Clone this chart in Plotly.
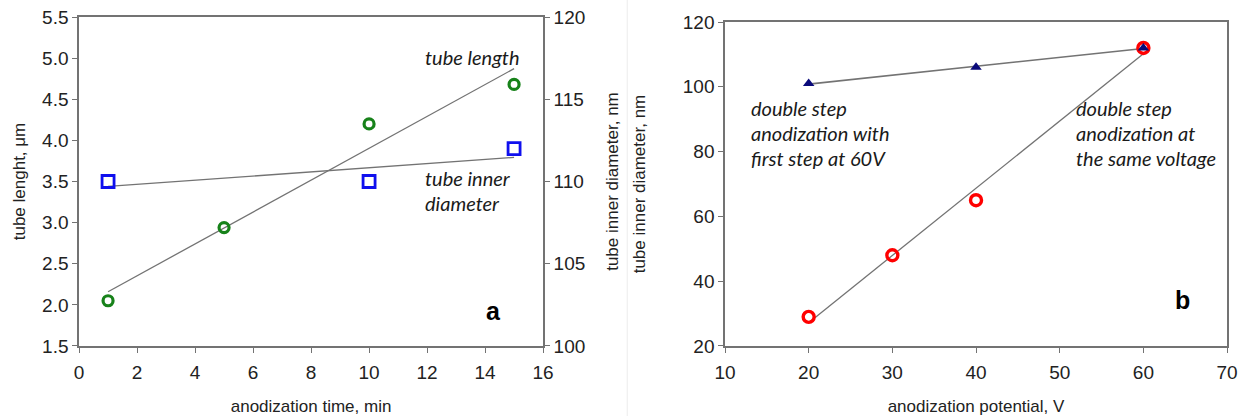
import numpy as np
import plotly.graph_objects as go

# ---- panel a: anodization time series ----
time_min = [1, 5, 10, 15]
tube_length_um = [2.05, 2.94, 4.20, 4.68]
time_diam_min = [1, 10, 15]
tube_diam_nm = [110.0, 110.0, 112.0]

# ---- panel b: anodization potential series ----
potential_same_V = [20, 30, 40, 60]
diam_same_nm = [29, 48, 65, 112]
potential_60_V = [20, 40, 60]
diam_60_nm = [101, 106, 112]

left_notes = ["double step", "anodization with", "first step at 60V"]
right_notes = ["double step", "anodization at", "the same voltage"]

GRID = "#737373"
TICK_FONT = dict(family="Liberation Sans, Arial", size=19, color="#222222")
TITLE_FONT = dict(family="Liberation Sans, Arial", size=17, color="#222222")
NOTE_FONT = dict(family="Lato", size=20, color="#1a1a1a")


def trend(x, y):
    """Least-squares line evaluated at the end points of x."""
    k, b = np.polyfit(x, y, 1)
    xs = np.array([min(x), max(x)], dtype=float)
    return xs, k * xs + b


fig = go.Figure()

# panel a trend lines
tx, ty = trend(time_min, tube_length_um)
fig.add_trace(go.Scatter(x=tx, y=ty, mode="lines", line=dict(color=GRID, width=1.3),
                         xaxis="x", yaxis="y", showlegend=False, hoverinfo="skip"))
dx, dy = trend(time_diam_min, tube_diam_nm)
fig.add_trace(go.Scatter(x=dx, y=dy, mode="lines", line=dict(color=GRID, width=1.3),
                         xaxis="x", yaxis="y2", showlegend=False, hoverinfo="skip"))

# panel a markers
fig.add_trace(go.Scatter(x=time_min, y=tube_length_um, mode="markers", name="tube length",
                         marker=dict(symbol="circle-open", size=10, color="#17821a",
                                     line=dict(width=3.2, color="#17821a")),
                         xaxis="x", yaxis="y", showlegend=False))
fig.add_trace(go.Scatter(x=time_diam_min, y=tube_diam_nm, mode="markers", name="tube inner diameter",
                         marker=dict(symbol="square-open", size=12, color="#1010ee",
                                     line=dict(width=2.8, color="#1010ee")),
                         xaxis="x", yaxis="y2", showlegend=False))

# panel b trend lines
sx, sy = trend(potential_same_V, diam_same_nm)
fig.add_trace(go.Scatter(x=sx, y=sy, mode="lines", line=dict(color=GRID, width=1.3),
                         xaxis="x2", yaxis="y3", showlegend=False, hoverinfo="skip"))
px_, py_ = trend(potential_60_V, diam_60_nm)
fig.add_trace(go.Scatter(x=px_, y=py_, mode="lines", line=dict(color=GRID, width=1.6),
                         xaxis="x2", yaxis="y3", showlegend=False, hoverinfo="skip"))

# panel b markers
fig.add_trace(go.Scatter(x=potential_same_V, y=diam_same_nm, mode="markers",
                         name="same voltage",
                         marker=dict(symbol="circle-open", size=11, color="#ff0000",
                                     line=dict(width=3.4, color="#ff0000")),
                         xaxis="x2", yaxis="y3", showlegend=False))
fig.add_trace(go.Scatter(x=potential_60_V, y=diam_60_nm, mode="markers",
                         name="first step at 60V",
                         marker=dict(symbol="triangle-up", size=10, color="#0a0a7a"),
                         xaxis="x2", yaxis="y3", showlegend=False))

axis_common = dict(showline=True, linecolor=GRID, linewidth=1.5, ticks="outside",
                   ticklen=5, tickcolor=GRID, tickwidth=1.3, showgrid=False,
                   zeroline=False, tickfont=TICK_FONT, title_font=TITLE_FONT,
                   automargin=False)

fig.update_layout(
    width=1247, height=416,
    margin=dict(l=0, r=0, t=0, b=0, autoexpand=False),
    paper_bgcolor="white", plot_bgcolor="rgba(0,0,0,0)",
    xaxis=dict(domain=[0.0634, 0.4355], range=[0, 16], dtick=2, anchor="y",
               mirror=True, ticklabelstandoff=3,
               title=dict(text="anodization time, min", standoff=20), **axis_common),
    yaxis=dict(domain=[0.1683, 0.9591], range=[1.5, 5.5], dtick=0.5, tickformat=".1f",
               anchor="x", title=dict(text="tube lenght, μm", standoff=12), **axis_common),
    yaxis2=dict(range=[100, 120], dtick=5, overlaying="y", side="right", anchor="x",
                title=dict(text="tube inner diameter, nm", standoff=22), **axis_common),
    xaxis2=dict(domain=[0.5814, 0.9840], range=[10, 70], dtick=10, anchor="y3",
                mirror=True, ticklabelstandoff=3,
                title=dict(text="anodization potential, V", standoff=20), **axis_common),
    yaxis3=dict(domain=[0.1683, 0.9471], range=[20, 120], dtick=20, anchor="x2",
                mirror=True, title=dict(text="tube inner diameter, nm", standoff=33),
                **axis_common),
)

# faint divider between the two panels
fig.add_shape(type="line", xref="paper", yref="paper", x0=0.5030, x1=0.5030, y0=0, y1=1,
              line=dict(color="#ececec", width=1))

# curve labels, panel a
fig.add_annotation(x=11.85, y=5.01, xref="x", yref="y", text="<i>tube length</i>",
                   showarrow=False, xanchor="left", font=NOTE_FONT)
fig.add_annotation(x=11.85, y=3.54, xref="x", yref="y", text="<i>tube inner</i>",
                   showarrow=False, xanchor="left", font=NOTE_FONT)
fig.add_annotation(x=11.85, y=3.24, xref="x", yref="y", text="<i>diameter</i>",
                   showarrow=False, xanchor="left", font=NOTE_FONT)

# curve labels, panel b
note_y = [93.4, 85.7, 78.0]
for txt, yv in zip(left_notes, note_y):
    fig.add_annotation(x=12.9, y=yv, xref="x2", yref="y3", text=f"<i>{txt}</i>",
                       showarrow=False, xanchor="left", font=NOTE_FONT)
for txt, yv in zip(right_notes, note_y):
    fig.add_annotation(x=51.7, y=yv, xref="x2", yref="y3", text=f"<i>{txt}</i>",
                       showarrow=False, xanchor="left", font=NOTE_FONT)

# panel letters
fig.add_annotation(x=14.3, y=1.93, xref="x", yref="y", text="<b>a</b>", showarrow=False,
                   font=dict(family="Liberation Sans, Arial", size=25, color="black"))
fig.add_annotation(x=64.7, y=34.2, xref="x2", yref="y3", text="<b>b</b>", showarrow=False,
                   font=dict(family="Liberation Sans, Arial", size=25, color="black"))

fig.write_html("out.html")
